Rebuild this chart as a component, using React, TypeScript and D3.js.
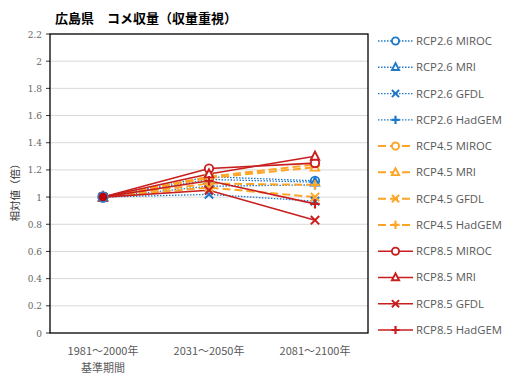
import React from "react";
import * as d3 from "d3";

const categories = ["1981～2000年", "2031～2050年", "2081～2100年"];
const seriesNames = [
  "RCP2.6 MIROC", "RCP2.6 MRI", "RCP2.6 GFDL", "RCP2.6 HadGEM",
  "RCP4.5 MIROC", "RCP4.5 MRI", "RCP4.5 GFDL", "RCP4.5 HadGEM",
  "RCP8.5 MIROC", "RCP8.5 MRI", "RCP8.5 GFDL", "RCP8.5 HadGEM",
];
const rcp26 = [
  [1, 1.15, 1.12],
  [1, 1.13, 1.11],
  [1, 1.02, 0.97],
  [1, 1.08, 1.09],
];
const rcp45 = [
  [1, 1.15, 1.24],
  [1, 1.14, 1.22],
  [1, 1.07, 1.0],
  [1, 1.1, 1.09],
];
const rcp85 = [
  [1, 1.21, 1.25],
  [1, 1.17, 1.3],
  [1, 1.05, 0.83],
  [1, 1.12, 0.95],
];
const yTicks = [0, 0.2, 0.4, 0.6, 0.8, 1, 1.2, 1.4, 1.6, 1.8, 2, 2.2];
const markerTypes = ["circle", "triangle", "x", "plus"];

const groupStyles = [
  { color: "#1F78C8", dash: "1.5,1.5", width: 1.3 },
  { color: "#FFA526", dash: "8,4", width: 2 },
  { color: "#C81E1E", dash: "", width: 1.6 },
];

function Marker({ type, x, y, color, s = 4.2 }: { type: string; x: number; y: number; color: string; s?: number }) {
  if (type === "circle")
    return <circle cx={x} cy={y} r={s} fill="white" stroke={color} strokeWidth={1.9} />;
  if (type === "triangle") {
    const pts = [[x, y - s - 0.5], [x - s, y + s - 0.8], [x + s, y + s - 0.8]].map((p) => p.join(",")).join(" ");
    return <polygon points={pts} fill="white" stroke={color} strokeWidth={1.9} />;
  }
  if (type === "x")
    return (
      <path d={`M${x - s},${y - s}L${x + s},${y + s}M${x - s},${y + s}L${x + s},${y - s}`} stroke={color} strokeWidth={2} />
    );
  return <path d={`M${x - s - 0.5},${y}L${x + s + 0.5},${y}M${x},${y - s - 0.5}L${x},${y + s + 0.5}`} stroke={color} strokeWidth={2.2} />;
}

export default function App() {
  const W = 508, H = 381;
  const left = 50, right = 368, top = 34, bottom = 333;
  const x = d3.scaleBand().domain(categories).range([left, right]);
  const y = d3.scaleLinear().domain([0, 2.2]).range([bottom, top]);
  const cx = (c: string) => (x(c) as number) + x.bandwidth() / 2;
  const line = d3.line<number>().x((_, i) => cx(categories[i])).y((v) => y(v));

  const groups = [rcp26, rcp45, rcp85];
  const series = groups.flatMap((g, gi) =>
    g.map((vals, si) => ({ name: seriesNames[gi * 4 + si], vals, style: groupStyles[gi], marker: markerTypes[si] }))
  );
  const legendY = d3.scalePoint().domain(seriesNames).range([41, 330]);

  return (
    <svg width={W} height={H} style={{ position: "absolute", left: 0, top: 0, background: "white" }}>
      <text x={55} y={23} fontFamily="'Noto Sans CJK JP'" fontWeight="bold" fontSize={13} fill="#000">
        広島県　コメ収量（収量重視）
      </text>
      {yTicks.map((t) => (
        <g key={t}>
          {t > 0 && t < 2.2 && <line x1={left} x2={right} y1={y(t)} y2={y(t)} stroke="#D9D9D9" strokeWidth={1} />}
          <line x1={left - 4} x2={left} y1={y(t)} y2={y(t)} stroke="#333" />
          <text x={left - 8} y={y(t) + 3.5} textAnchor="end" fontFamily="'DejaVu Serif'" fontSize={9} fill="#666">
            {d3.format("~g")(t)}
          </text>
        </g>
      ))}
      <rect x={left} y={top} width={right - left} height={bottom - top} fill="none" stroke="#000" strokeWidth={1.3} />
      <text
        transform={`translate(${19},${190}) rotate(-90)`}
        textAnchor="middle"
        fontFamily="'Noto Sans CJK JP'"
        fontSize={10.5}
        fill="#333"
      >
        相対値（倍）
      </text>
      {categories.map((c) => (
        <text key={c} x={cx(c)} y={355} textAnchor="middle" fontFamily="'Noto Sans CJK JP'" fontSize={11} fill="#595959">
          {c}
        </text>
      ))}
      <text x={cx(categories[0])} y={372} textAnchor="middle" fontFamily="'Noto Sans CJK JP'" fontSize={11} fill="#595959">
        基準期間
      </text>
      {series.map((s) => (
        <path key={s.name} d={line(s.vals) as string} fill="none" stroke={s.style.color} strokeWidth={s.style.width} strokeDasharray={s.style.dash} />
      ))}
      {series.map((s) => (
        <g key={s.name + "m"}>
          {s.vals.map((v, i) => (
            <Marker key={i} type={s.marker} x={cx(categories[i])} y={y(v)} color={s.style.color} />
          ))}
        </g>
      ))}
      <circle cx={cx(categories[0])} cy={y(1)} r={5} fill="#C00000" stroke="#2A7FD0" strokeWidth={1.5} />
      {series.map((s) => {
        const ly = legendY(s.name) as number;
        return (
          <g key={s.name + "l"}>
            <line x1={378} x2={413} y1={ly} y2={ly} stroke={s.style.color} strokeWidth={s.style.width} strokeDasharray={s.style.dash} />
            <Marker type={s.marker} x={395.5} y={ly} color={s.style.color} s={3.6} />
            <text x={416} y={ly + 4} fontFamily="'Open Sans'" fontSize={11.3} fill="#595959" letterSpacing={0}>
              {s.name}
            </text>
          </g>
        );
      })}
    </svg>
  );
}
